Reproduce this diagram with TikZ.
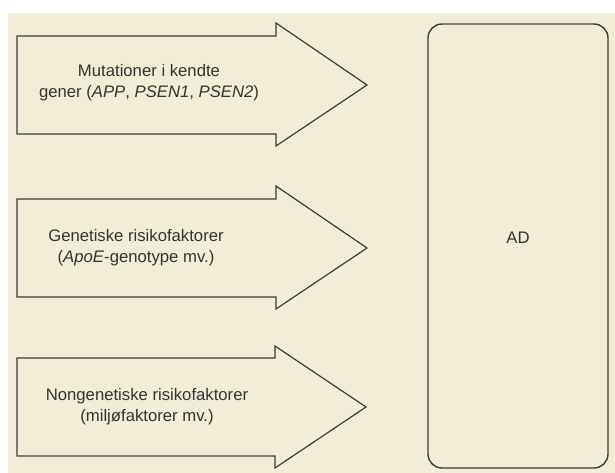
\documentclass[tikz,border=0pt]{standalone}
\usepackage{fontspec}
\setmainfont{Liberation Sans}
\definecolor{cream}{HTML}{F2EDD6}
\definecolor{outline}{HTML}{3C3C3C}
\definecolor{ink}{HTML}{333333}
\tikzset{
  factorarrow/.style={draw=outline, line width=1.2pt, line join=miter},
  factortext/.style={align=center, text=ink, font=\fontsize{16.7}{21}\selectfont},
  adbox/.style={draw=outline, line width=1.4pt, rounded corners=14pt}
}
\begin{document}
\begin{tikzpicture}[x=1pt, y=-1pt]
\useasboundingbox (0,0) rectangle (615,473);
\fill[white] (0,0) rectangle (615,473);
\fill[cream] (8,13) rectangle (615,473);
% arrow 1
\draw[factorarrow] (17,36) -- (276,36) -- (276,23) -- (367,85) -- (276,146) -- (276,134) -- (17,134) -- cycle;
\node[factortext] (mut) at (149,83) {Mutationer i kendte\\gener (\textit{APP}, \textit{PSEN1}, \textit{PSEN2})};
% arrow 2
\draw[factorarrow] (17,199) -- (276,199) -- (276,186) -- (367,248) -- (276,309) -- (276,297) -- (17,297) -- cycle;
\node[factortext] (gen) at (136,248) {Genetiske risikofaktorer\\(\textit{ApoE}-genotype mv.)};
% arrow 3
\draw[factorarrow] (17,358) -- (275,358) -- (275,346) -- (366,407) -- (275,468) -- (275,456) -- (17,456) -- cycle;
\node[factortext] (nongen) at (147,407) {Nongenetiske risikofaktorer\\(miljøfaktorer mv.)};
% AD box
\draw[adbox] (428,24) rectangle (608,468);
\node[factortext] (ad) at (518,238) {AD};
\end{tikzpicture}
\end{document}
